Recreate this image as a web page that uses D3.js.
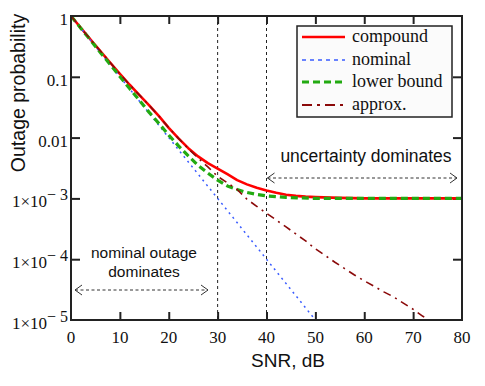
<!DOCTYPE html>
<html><head><meta charset="utf-8">
<script src="https://cdn.jsdelivr.net/npm/d3@7/dist/d3.min.js"></script>
<style>
html,body{margin:0;padding:0;background:#fff;}
svg{display:block;}
</style>
</head><body>
<svg id="chart" width="485" height="386"></svg>
<script>
// ---- data ----
const xTicks = [0,10,20,30,40,50,60,70,80];
const yTicks = [1,0.1,0.01,1e-3,1e-4,1e-5];
const yTickLabels = [["1",""],["0.1",""],["0.01",""],["1\u00d710","\u2212 3"],["1\u00d710","\u2212 4"],["1\u00d710","\u2212 5"]];

const snrCompound = [0,2,4,6,8,10,12,14,16,18,20,22,24,26,28,30,32,34,36,38,40,42,44,46,48,50,55,60,70,80];
const compound = [1.0,0.64,0.41,0.265,0.172,0.112,0.074,0.050,0.034,0.0225,0.0145,0.0097,0.0067,0.0049,0.0038,0.0031,0.0025,0.0020,0.0017,0.0015,0.00135,0.00124,0.00115,0.0011,0.00107,0.00105,0.00102,0.001,0.001,0.001];

const snrNominal = [0,5,10,15,20,25,30,35,40,45,50];
const nominal = [1,0.316,0.1,0.0316,0.01,0.00316,0.001,0.000316,0.0001,0.0000316,0.00001];

const snrLower = [0,2,4,6,8,10,12,14,16,18,20,22,24,26,28,30,32,34,36,38,40,44,50,60,80];
const lowerBound = [1.0,0.63,0.40,0.252,0.16,0.101,0.064,0.041,0.026,0.017,0.011,0.0073,0.0050,0.0035,0.0026,0.0020,0.0016,0.0014,0.00125,0.00116,0.0011,0.00104,0.001,0.001,0.001];

const snrApprox = [0,2,4,6,8,10,12,14,16,18,20,22,24,26,28,30,32,34,36,38,40,42,44,46,48,50,52,54,56,58,60,62,64,66,68,70,72,74];
const approx = [1.0,0.64,0.41,0.265,0.172,0.112,0.074,0.050,0.034,0.0225,0.0145,0.0097,0.0066,0.0046,0.0033,0.0023,0.0018,0.0014,0.00097,0.00074,0.00057,0.00044,0.00034,0.00026,0.0002,0.000148,0.000115,0.000089,0.00007,0.000055,0.000044,0.000036,0.000029,0.000024,0.000019,0.000015,0.0000115,0.0000092];

const markerLines = [30,40];
const legendNames = ["compound","nominal","lower bound","approx."];

// ---- layout ----
const L = 71, R = 462, T = 16, B = 320;
const svg = d3.select("#chart");
const x = d3.scaleLinear().domain([0,80]).range([L,R]);
const y = d3.scaleLog().domain([1e-5,1]).range([B,T]);
const serif = "'Liberation Serif','Times New Roman',serif";
const sans = "'Liberation Sans',Arial,Helvetica,sans-serif";

svg.append("defs").append("clipPath").attr("id","clip")
  .append("rect").attr("x",L).attr("y",T).attr("width",R-L).attr("height",B-T);

// ticks (inward, all four sides)
const tk = 8;
function styleAxis(g){ g.select(".domain").remove(); g.selectAll("line").attr("stroke","#222").attr("stroke-width",2); g.selectAll("text").remove(); }
svg.append("g").attr("transform",`translate(0,${B})`).call(d3.axisBottom(x).tickValues(xTicks.slice(1,-1)).tickSize(-tk)).call(styleAxis);
svg.append("g").attr("transform",`translate(0,${T})`).call(d3.axisTop(x).tickValues(xTicks.slice(1,-1)).tickSize(-tk)).call(styleAxis);
svg.append("g").attr("transform",`translate(${L},0)`).call(d3.axisLeft(y).tickValues(yTicks.slice(1,-1)).tickSize(-tk-1)).call(styleAxis);
svg.append("g").attr("transform",`translate(${R},0)`).call(d3.axisRight(y).tickValues(yTicks.slice(1,-1)).tickSize(-tk-1)).call(styleAxis);

// vertical dashed marker lines
svg.selectAll(".vl").data(markerLines).enter().append("line")
  .attr("x1",d=>x(d)).attr("x2",d=>x(d)).attr("y1",T).attr("y2",B)
  .attr("stroke","#222").attr("stroke-width",1).attr("stroke-dasharray","3,3");

// curves
const plot = svg.append("g").attr("clip-path","url(#clip)");
function drawLine(xs, ys, color, w, dash){
  const line = d3.line().x((d,i)=>x(xs[i])).y(d=>y(d));
  plot.append("path").datum(ys).attr("d",line).attr("fill","none")
    .attr("stroke",color).attr("stroke-width",w).attr("stroke-dasharray",dash)
    .attr("stroke-linejoin","round");
}
const styles = [
  {color:"#ff0000", w:2.6, dash:null, legDash:null},
  {color:"#3a5cff", w:1.5, dash:"2,4", legDash:"4,4"},
  {color:"#22aa11", w:3.2, dash:"7,4", legDash:"7,4"},
  {color:"#8b0a0a", w:1.6, dash:"8,5,2,5", legDash:"10,5,3,5"}
];
drawLine(snrCompound, compound, styles[0].color, styles[0].w, styles[0].dash);
drawLine(snrNominal, nominal, styles[1].color, styles[1].w, styles[1].dash);
drawLine(snrLower, lowerBound, styles[2].color, styles[2].w, styles[2].dash);
drawLine(snrApprox, approx, styles[3].color, styles[3].w, styles[3].dash);

// frame
svg.append("rect").attr("x",L).attr("y",T).attr("width",R-L).attr("height",B-T)
  .attr("fill","none").attr("stroke","#222").attr("stroke-width",2);

// x tick labels
svg.selectAll(".xl").data(xTicks).enter().append("text")
  .attr("x",d=>x(d)).attr("y",B+23).attr("text-anchor","middle")
  .attr("font-family",serif).attr("font-size",17).attr("fill","#111").text(d=>d);

// y tick labels
yTicks.forEach((v,i)=>{
  const t = svg.append("text").attr("x",L-3).attr("y",y(v)+9).attr("text-anchor","end")
    .attr("font-family",serif).attr("font-size",17).attr("fill","#111");
  t.append("tspan").text(yTickLabels[i][0]);
  if (yTickLabels[i][1]) t.append("tspan").attr("dy",-7).attr("font-size",16).text(yTickLabels[i][1]);
});

// axis titles
svg.append("text").attr("x",288).attr("y",367).attr("text-anchor","middle")
  .attr("font-family",sans).attr("font-size",19).attr("fill","#111").text("SNR, dB");
svg.append("text").attr("transform","translate(25,93) rotate(-90)").attr("text-anchor","middle")
  .attr("font-family",sans).attr("font-size",19.5).attr("fill","#111").text("Outage probability");

// annotations
function dblArrow(x1,x2,yy){
  svg.append("line").attr("x1",x1).attr("x2",x2).attr("y1",yy).attr("y2",yy)
    .attr("stroke","#333").attr("stroke-width",1).attr("stroke-dasharray","3,2.5");
  svg.append("path").attr("d",`M${x1+7},${yy-5}L${x1},${yy}L${x1+7},${yy+5}`).attr("fill","none").attr("stroke","#333").attr("stroke-width",1);
  svg.append("path").attr("d",`M${x2-7},${yy-5}L${x2},${yy}L${x2-7},${yy+5}`).attr("fill","none").attr("stroke","#333").attr("stroke-width",1);
}
dblArrow(x(40)+1, 457, 178);
dblArrow(75, 208, 290);
svg.append("text").attr("x",366).attr("y",162).attr("text-anchor","middle")
  .attr("font-family",sans).attr("font-size",17.5).attr("fill","#111").text("uncertainty dominates");
svg.append("text").attr("x",144).attr("y",258).attr("text-anchor","middle")
  .attr("font-family",sans).attr("font-size",15.5).attr("fill","#111").text("nominal outage");
svg.append("text").attr("x",144).attr("y",277).attr("text-anchor","middle")
  .attr("font-family",sans).attr("font-size",15.5).attr("fill","#111").text("dominates");

// legend
const lg = svg.append("g");
lg.append("rect").attr("x",297).attr("y",26).attr("width",155).attr("height",91)
  .attr("fill","#fbfbfb").attr("stroke","#222").attr("stroke-width",1.5);
const rowY = [37,60,82,105];
legendNames.forEach((n,i)=>{
  lg.append("line").attr("x1",302).attr("x2",345).attr("y1",rowY[i]).attr("y2",rowY[i])
    .attr("stroke",styles[i].color).attr("stroke-width",i===1?1.5:(i===2?3.2:(i===0?2.6:1.8)))
    .attr("stroke-dasharray",styles[i].legDash);
  lg.append("text").attr("x",352).attr("y",rowY[i]+5).attr("font-family",serif)
    .attr("font-size",18).attr("fill","#111").text(n);
});
</script>
</body></html>
